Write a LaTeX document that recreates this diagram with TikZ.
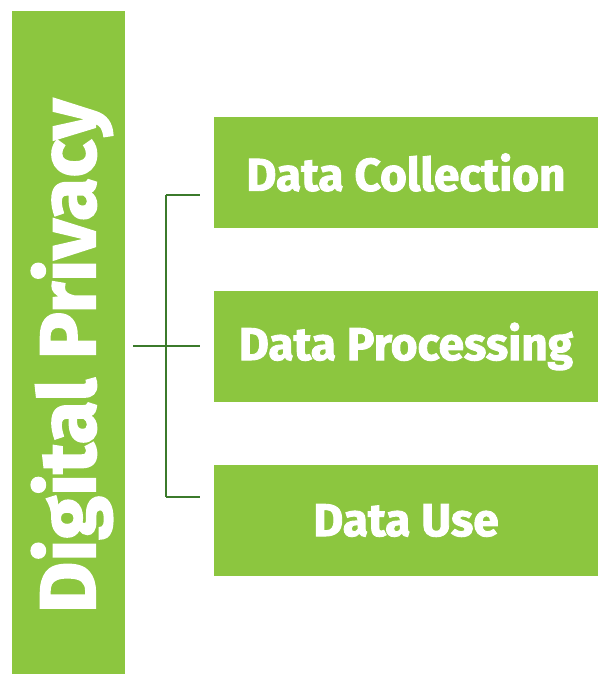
\documentclass[tikz,border=0pt]{standalone}
\usepackage{fontspec}
\setmainfont{Fira Sans}[BoldFeatures={FakeBold=2}]
\usetikzlibrary{calc}
\definecolor{leaf}{HTML}{8CC63F}
\definecolor{stem}{HTML}{3B7A2B}

\begin{document}
\begin{tikzpicture}[x=1pt,y=-1pt,thick,
  main node/.style={rectangle,fill=leaf,inner sep=0pt,text=white,
    font=\fontsize{46}{46}\selectfont\bfseries},
  link/.style={draw=stem,line width=2pt}]

  \useasboundingbox (0,0) rectangle (598,674);

  \node[main node,minimum width=113pt,minimum height=663pt] (0) at (68.5,342.5) {};
  \node[white,rotate=90,inner sep=0pt,font=\fontsize{79}{79}\selectfont\bfseries] (t) at (72,356) {Digital Privacy};
  \node[main node,minimum width=384pt,minimum height=111pt] (1) at (406,172.5) {Data Collection};
  \node[main node,minimum width=384pt,minimum height=111pt] (2) at (406,346.5) {Data Processing};
  \node[main node,minimum width=384pt,minimum height=111pt] (3) at (406,520.5) {Data Use};

  \coordinate (j) at (166,346);
  \coordinate (a) at (166,195);
  \coordinate (b) at (166,497);

  \path[link]
    (j -| 0.east) edge[shorten <=8pt] (j)
    (a) edge (b)
    (a) edge[shorten >=14pt] (a -| 1.west)
    (j) edge[shorten >=14pt] (j -| 2.west)
    (b) edge[shorten >=14pt] (b -| 3.west)
    ;
\end{tikzpicture}
\end{document}
